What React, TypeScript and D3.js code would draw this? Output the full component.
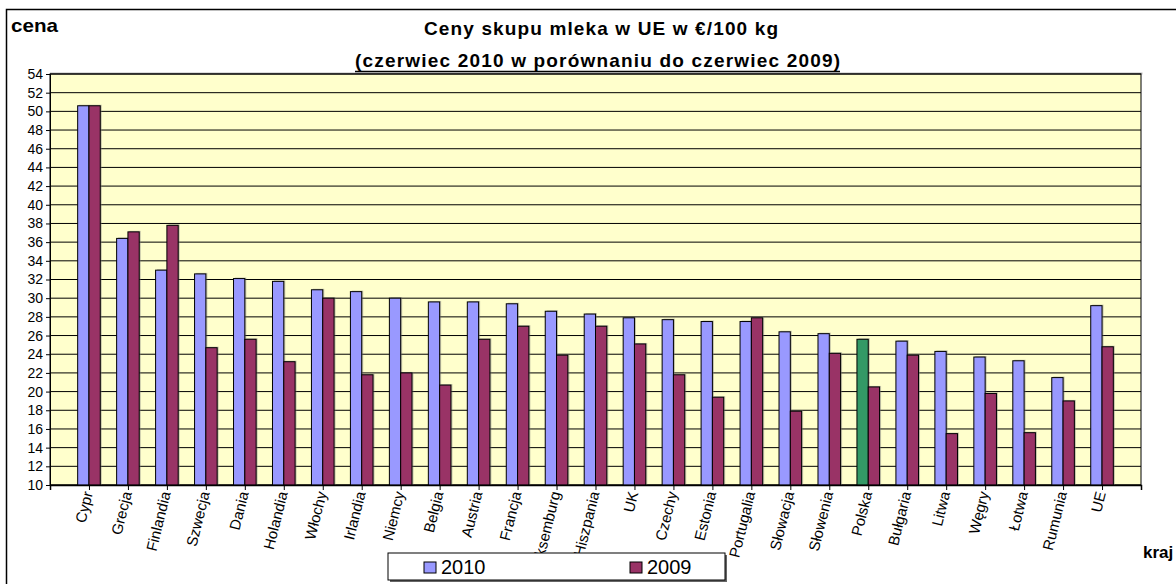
import React, { useRef, useEffect } from "react";
import * as d3 from "d3";

const countries = [
  "Cypr", "Grecja", "Finlandia", "Szwecja", "Dania", "Holandia", "Włochy",
  "Irlandia", "Niemcy", "Belgia", "Austria", "Francja", "Luksemburg",
  "Hiszpania", "UK", "Czechy", "Estonia", "Portugalia", "Słowacja",
  "Słowenia", "Polska", "Bułgaria", "Litwa", "Węgry", "Łotwa", "Rumunia", "UE",
];
const v2010 = [
  50.6, 36.4, 33.0, 32.6, 32.1, 31.8, 30.9, 30.7, 30.0, 29.6, 29.6, 29.4, 28.6,
  28.3, 27.9, 27.7, 27.5, 27.5, 26.4, 26.2, 25.6, 25.4, 24.3, 23.7, 23.3, 21.5, 29.2,
];
const v2009 = [
  50.6, 37.1, 37.8, 24.7, 25.6, 23.2, 30.0, 21.8, 22.0, 20.7, 25.6, 27.0, 23.9,
  27.0, 25.1, 21.8, 19.4, 27.9, 17.9, 24.1, 20.5, 23.9, 15.5, 19.8, 15.6, 19.0, 24.8,
];
const yTicks = d3.range(10, 55, 2);
const seriesNames = ["2010", "2009"];
const highlight = "Polska";

const W = 1176;
const H = 584;

const App = () => {
  const svgRef = useRef(null);

  useEffect(() => {
    const svg = d3.select(svgRef.current);
    svg.selectAll("*").remove();
    const font = "Arial, 'Liberation Sans', sans-serif";

    // chart frame
    svg.append("rect").attr("x", 6.5).attr("y", 9.5).attr("width", W + 10).attr("height", H + 10)
      .attr("fill", "#fff").attr("stroke", "#000").attr("stroke-width", 1.5);

    const left = 50, right = 1141, top = 74, bottom = 485;
    // blank slots at both ends, like the original axis
    const x = d3.scalePoint().domain(["_s", ...countries, "_e"]).range([left, right]);
    const y = d3.scaleLinear().domain([10, 54]).range([bottom, top]);
    const step = x.step();
    const bw = step * 0.29;

    // plot area
    svg.append("rect").attr("x", left).attr("y", top - 1.5).attr("width", right - left + 1.5).attr("height", 2)
      .attr("fill", "#bbb");
    svg.append("rect").attr("x", left).attr("y", top).attr("width", right - left).attr("height", bottom - top)
      .attr("fill", "#FFFFCC").attr("stroke", "#000").attr("stroke-width", 1);

    // gridlines
    svg.append("g").selectAll("line").data(yTicks).join("line")
      .attr("x1", left).attr("x2", right)
      .attr("y1", (d) => y(d)).attr("y2", (d) => y(d))
      .attr("stroke", "#000").attr("stroke-width", 1);

    // bars
    const g = svg.append("g");
    countries.forEach((c, i) => {
      const cx = x(c);
      const vals = [v2010[i], v2009[i]];
      vals.forEach((v, k) => {
        const bx = k === 0 ? cx - bw : cx;
        let fill = k === 0 ? "#9999FF" : "#993366";
        if (c === highlight && k === 0) fill = "#339966";
        g.append("rect").attr("x", bx + 1.5).attr("y", y(v) - 1).attr("width", bw).attr("height", bottom - y(v) + 1)
          .attr("fill", "#777").attr("opacity", 0.45);
        g.append("rect").attr("x", bx).attr("y", y(v)).attr("width", bw).attr("height", bottom - y(v))
          .attr("fill", fill).attr("stroke", "#000").attr("stroke-width", 1);
      });
    });

    // y axis
    const yAxis = svg.append("g").attr("transform", `translate(${left},0)`)
      .call(d3.axisLeft(y).tickValues(yTicks).tickSize(4).tickPadding(3).tickFormat(d3.format("d")));
    yAxis.select(".domain").attr("stroke", "#000");
    yAxis.selectAll(".tick line").attr("stroke", "#000");
    yAxis.selectAll(".tick text").attr("font-family", font).attr("font-size", 14).attr("fill", "#000");

    // x axis
    const xAxis = svg.append("g").attr("transform", `translate(0,${bottom})`)
      .call(d3.axisBottom(x).tickSize(5).tickFormat(() => ""));
    xAxis.select(".domain").attr("stroke", "#000").attr("stroke-width", 1.5);
    xAxis.selectAll(".tick line").attr("stroke", "#000");

    svg.append("g").selectAll("text").data(countries).join("text")
      .attr("transform", (d) => `translate(${x(d) + 4},${bottom + 8}) rotate(-76)`)
      .attr("text-anchor", "end")
      .attr("font-family", font).attr("font-size", 15)
      .text((d) => d);

    // titles
    svg.append("text").attr("x", 11).attr("y", 32).attr("font-family", font).attr("font-weight", "bold")
      .attr("font-size", 19).attr("textLength", 47).attr("lengthAdjust", "spacingAndGlyphs").text("cena");
    svg.append("text").attr("x", 424).attr("y", 35).attr("font-family", font).attr("font-weight", "bold")
      .attr("font-size", 19).attr("textLength", 354).attr("lengthAdjust", "spacing")
      .text("Ceny skupu mleka w UE w €/100 kg");
    svg.append("text").attr("x", 355).attr("y", 67).attr("font-family", font).attr("font-weight", "bold")
      .attr("font-size", 19).attr("textLength", 485).attr("lengthAdjust", "spacing")
      .text("(czerwiec 2010 w porównaniu do czerwiec 2009)");
    svg.append("line").attr("x1", 355).attr("x2", 840).attr("y1", 71.5).attr("y2", 71.5)
      .attr("stroke", "#000").attr("stroke-width", 1.5);

    svg.append("text").attr("x", 1143).attr("y", 558).attr("font-family", font).attr("font-weight", "bold")
      .attr("font-size", 17).text("kraj");

    // legend
    const lg = svg.append("g");
    lg.append("rect").attr("x", 390).attr("y", 555).attr("width", 337).attr("height", 27).attr("fill", "#666");
    lg.append("rect").attr("x", 388).attr("y", 553).attr("width", 337).attr("height", 27)
      .attr("fill", "#fff").attr("stroke", "#000").attr("stroke-width", 1);
    const legendX = [424, 630];
    seriesNames.forEach((s, k) => {
      lg.append("rect").attr("x", legendX[k]).attr("y", 562).attr("width", 12).attr("height", 11)
        .attr("fill", k === 0 ? "#9999FF" : "#993366").attr("stroke", "#000");
      lg.append("text").attr("x", legendX[k] + 17).attr("y", 574).attr("font-family", font)
        .attr("font-size", 20).text(s);
    });
  }, []);

  return (
    <svg ref={svgRef} width={W} height={H}
      style={{ position: "absolute", left: 0, top: 0, background: "#fff" }} />
  );
};

export default App;
